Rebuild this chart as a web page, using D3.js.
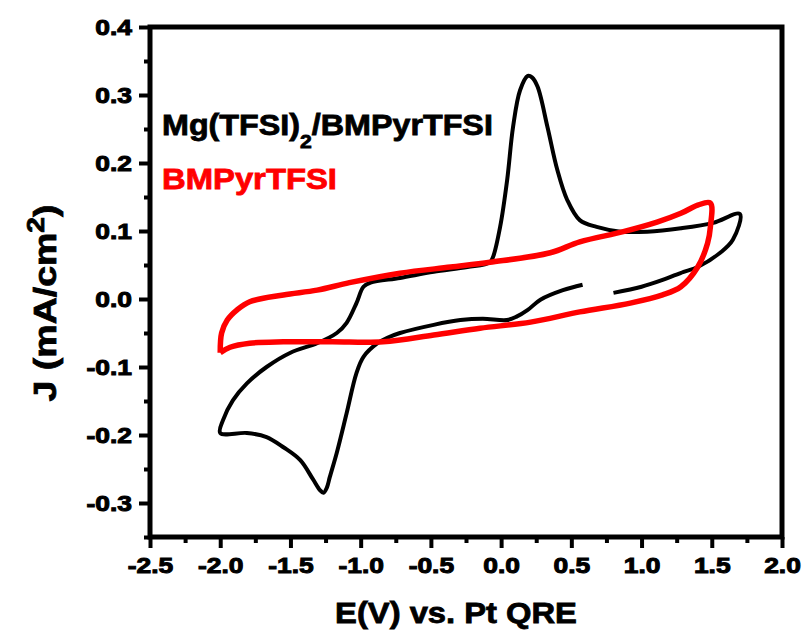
<!DOCTYPE html>
<html>
<head>
<meta charset="utf-8">
<script src="https://cdn.jsdelivr.net/npm/d3@7"></script>
<style>
  html, body { margin: 0; padding: 0; background: #fff; }
  svg { display: block; }
  text { font-family: "Liberation Sans", Arial, sans-serif; font-weight: bold; fill: #000; stroke: #000; stroke-width: 0.8px; }
  .tick text { stroke-width: 1px; }
</style>
</head>
<body>
<svg id="chart" width="803" height="630"></svg>
<script>
// Cyclic voltammograms: potential E (V vs. Pt QRE) and current density J (mA/cm2)
// Mg(TFSI)2 dissolved in BMPyrTFSI
const mgE = [0.80, 1.00, 1.15, 1.30, 1.40, 1.56, 1.65, 1.70,
  1.51, 1.28, 1.04, 0.85, 0.68, 0.56, 0.47, 0.40, 0.33, 0.26, 0.22, 0.19, 0.135, 0.085, 0.043, -0.007, -0.057, -0.08,
  -0.24, -0.48, -0.72, -0.93, -0.98, -1.03, -1.10, -1.17, -1.31, -1.50, -1.67, -1.81, -1.91, -1.98, -2.00,
  -1.81, -1.67, -1.55, -1.43, -1.34, -1.29, -1.265, -1.24, -1.22, -1.17, -1.10, -1.03, -0.98, -0.88, -0.81, -0.72,
  -0.48, -0.29, -0.13, 0.04, 0.11, 0.19, 0.28, 0.44, 0.58];
const mgJ = [0.009, 0.018, 0.028, 0.040, 0.047, 0.068, 0.087, 0.125,
  0.112, 0.104, 0.099, 0.099, 0.106, 0.116, 0.146, 0.190, 0.253, 0.312, 0.326, 0.328, 0.307, 0.253, 0.175, 0.106, 0.062, 0.054,
  0.047, 0.040, 0.031, 0.024, 0.018, -0.006, -0.035, -0.050, -0.065, -0.079, -0.100, -0.124, -0.149, -0.178, -0.197,
  -0.197, -0.203, -0.218, -0.237, -0.265, -0.281, -0.285, -0.277, -0.262, -0.226, -0.168, -0.109, -0.085, -0.065, -0.057, -0.050,
  -0.038, -0.031, -0.029, -0.031, -0.026, -0.016, -0.001, 0.013, 0.021];

// Neat BMPyrTFSI
const ilE = [-2.00, -1.99, -1.95, -1.88, -1.79, -1.55, -1.31, -1.08, -0.72, -0.36, -0.08, 0.35, 0.56, 0.87, 1.11, 1.28, 1.40, 1.49,
  1.49, 1.47, 1.40, 1.28, 1.15, 0.92, 0.56, 0.21, -0.15, -0.48, -0.84, -1.20, -1.55, -1.79, -1.93, -2.00];
const ilJ = [-0.079, -0.050, -0.031, -0.016, -0.004, 0.006, 0.013, 0.024, 0.038, 0.047, 0.054, 0.068, 0.084, 0.099, 0.113, 0.126, 0.138, 0.141,
  0.106, 0.082, 0.047, 0.018, 0.006, -0.006, -0.019, -0.034, -0.043, -0.053, -0.063, -0.063, -0.063, -0.065, -0.071, -0.079];

const xMajor = [-2.5, -2.0, -1.5, -1.0, -0.5, 0.0, 0.5, 1.0, 1.5, 2.0];
const xMinor = [-2.25, -1.75, -1.25, -0.75, -0.25, 0.25, 0.75, 1.25, 1.75];
const yMajor = [-0.3, -0.2, -0.1, 0.0, 0.1, 0.2, 0.3, 0.4];
const yMinor = [-0.35, -0.25, -0.15, -0.05, 0.05, 0.15, 0.25, 0.35];

const seriesNames = ["Mg(TFSI)", "2", "/BMPyrTFSI", "BMPyrTFSI"];

const svg = d3.select("#chart");
const x = d3.scaleLinear().domain([-2.5, 2.0]).range([150, 782]);
const y = d3.scaleLinear().domain([-0.35, 0.4]).range([537, 27]);

const TX = 1.2; // horizontal glyph stretch used for tick labels

// curves
const line = d3.line()
  .x(d => x(d[0]))
  .y(d => y(d[1]))
  .curve(d3.curveCatmullRom.alpha(0.5));

svg.append("path")
  .datum(d3.zip(mgE, mgJ))
  .attr("d", line)
  .attr("fill", "none")
  .attr("stroke", "#000")
  .attr("stroke-width", 4)
  .attr("stroke-linejoin", "round");

svg.append("path")
  .datum(d3.zip(ilE, ilJ))
  .attr("d", line)
  .attr("fill", "none")
  .attr("stroke", "#ff0000")
  .attr("stroke-width", 5.5)
  .attr("stroke-linejoin", "round");

// axes
function styleAxis(g) {
  g.select(".domain").remove();
  g.selectAll(".tick line").attr("stroke", "#000").attr("stroke-width", 4);
}
const fmt = d => d3.format(".1f")(d).replace("−", "-");

const xAxisG = svg.append("g")
  .attr("transform", `translate(0,${y(-0.35)})`)
  .call(d3.axisBottom(x).tickValues(xMajor).tickSize(11).tickFormat(fmt))
  .call(styleAxis);
xAxisG.selectAll(".tick text")
  .attr("font-size", 22)
  .attr("y", 36).attr("dy", 0)
  .attr("transform", `scale(${TX},1)`)
  .attr("font-family", null);

svg.append("g")
  .attr("transform", `translate(0,${y(-0.35)})`)
  .call(d3.axisBottom(x).tickValues(xMinor).tickSize(6).tickFormat(""))
  .call(styleAxis);

const yAxisG = svg.append("g")
  .attr("transform", `translate(${x(-2.5)},0)`)
  .call(d3.axisLeft(y).tickValues(yMajor).tickSize(11).tickFormat(fmt))
  .call(styleAxis);
yAxisG.selectAll(".tick text")
  .attr("font-size", 22)
  .attr("x", -18 / TX)
  .attr("dy", "0.34em")
  .attr("transform", `scale(${TX},1)`)
  .attr("font-family", null);

svg.append("g")
  .attr("transform", `translate(${x(-2.5)},0)`)
  .call(d3.axisLeft(y).tickValues(yMinor).tickSize(6).tickFormat(""))
  .call(styleAxis);

// frame
svg.append("rect")
  .attr("x", x(-2.5)).attr("y", y(0.4))
  .attr("width", x(2.0) - x(-2.5)).attr("height", y(-0.35) - y(0.4))
  .attr("fill", "none").attr("stroke", "#000").attr("stroke-width", 5);

// horizontal stretch that brings a text element to a target width
function fitWidth(textSel, target) {
  const w = textSel.node().getBBox().width;
  return target / w;
}

// legend labels
const leg1 = svg.append("g");
const t1 = leg1.append("text").attr("font-size", 29);
t1.append("tspan").text(seriesNames[0]);
t1.append("tspan").attr("font-size", 19).attr("dy", 13).text(seriesNames[1]);
t1.append("tspan").attr("dy", -13).text(seriesNames[2]);
leg1.attr("transform", `translate(162,135) scale(${fitWidth(t1, 331)},1)`);

const leg2 = svg.append("g");
const t2 = leg2.append("text").attr("font-size", 29)
  .style("fill", "#ff0000").style("stroke", "#ff0000").text(seriesNames[3]);
leg2.attr("transform", `translate(162,189) scale(${fitWidth(t2, 175)},1)`);

// axis titles
const xt = svg.append("g");
const xtText = xt.append("text").attr("font-size", 29).attr("text-anchor", "middle").text("E(V) vs. Pt QRE");
xt.attr("transform", `translate(456,623) scale(${fitWidth(xtText, 242)},1)`);

const yt = svg.append("g");
const ytText = yt.append("text").attr("font-size", 32).attr("text-anchor", "middle");
ytText.append("tspan").text("J (mA/cm");
ytText.append("tspan").attr("font-size", 24).attr("dy", -12).text("2");
ytText.append("tspan").attr("dy", 12).text(")");
yt.attr("transform", `translate(56,303) rotate(-90) scale(${fitWidth(ytText, 197)},1)`);
</script>
</body>
</html>
